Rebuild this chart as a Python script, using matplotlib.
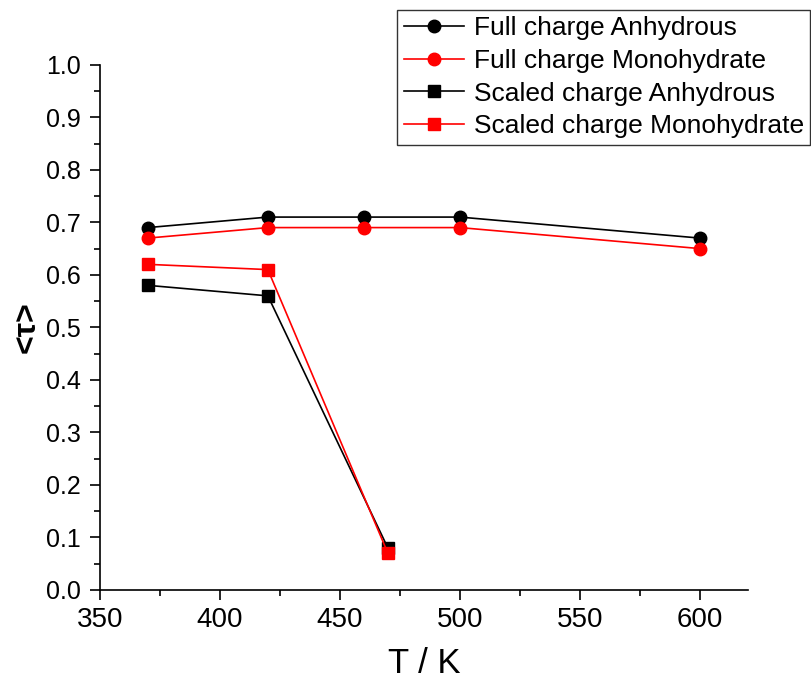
import matplotlib
matplotlib.use("Agg")
import matplotlib.pyplot as plt
from matplotlib.ticker import MultipleLocator

plt.rcParams['font.family'] = ['Liberation Sans', 'DejaVu Sans']

# temperatures (K)
t_full = [370, 420, 460, 500, 600]
t_scaled = [370, 420, 470]

# <tau> values
full_anhydrous = [0.69, 0.71, 0.71, 0.71, 0.67]
full_monohydrate = [0.67, 0.69, 0.69, 0.69, 0.65]
scaled_anhydrous = [0.58, 0.56, 0.08]
scaled_monohydrate = [0.62, 0.61, 0.07]

fig = plt.figure(figsize=(8.12, 6.82), dpi=100)
ax = fig.add_axes([0.123, 0.135, 0.798, 0.77])

lw = 1.2
ax.plot(t_full, full_anhydrous, color='black', marker='o', ms=9, lw=lw,
        label='Full charge Anhydrous')
ax.plot(t_full, full_monohydrate, color='red', marker='o', ms=9, lw=lw,
        label='Full charge Monohydrate')
ax.plot(t_scaled, scaled_anhydrous, color='black', marker='s', ms=8, lw=lw,
        label='Scaled charge Anhydrous')
ax.plot(t_scaled, scaled_monohydrate, color='red', marker='s', ms=8, lw=lw,
        label='Scaled charge Monohydrate')

ax.set_xlim(350, 620)
ax.set_ylim(0, 1.0)
ax.xaxis.set_major_locator(MultipleLocator(50))
ax.xaxis.set_minor_locator(MultipleLocator(25))
ax.yaxis.set_major_locator(MultipleLocator(0.1))
ax.yaxis.set_minor_locator(MultipleLocator(0.05))
ax.yaxis.set_major_formatter(plt.FormatStrFormatter('%.1f'))

ax.spines['top'].set_visible(False)
ax.spines['right'].set_visible(False)
for s in ('left', 'bottom'):
    ax.spines[s].set_linewidth(1.2)
ax.tick_params(which='major', direction='out', length=7, width=1.2)
ax.tick_params(which='minor', direction='out', length=4, width=1.2)
ax.tick_params(axis='y', labelsize=18, pad=7)
ax.tick_params(axis='x', labelsize=20, pad=5)

ax.set_xlabel('T / K', fontsize=25, va='baseline')
ax.xaxis.set_label_coords(0.5, -0.158)
ax.set_ylabel('<τ>', fontsize=23, fontweight='bold', labelpad=3)

leg = fig.legend(loc='upper right', bbox_to_anchor=(0.998, 0.986), fontsize=19,
                 frameon=True, fancybox=False, edgecolor='black',
                 handlelength=2.3, handletextpad=0.35, borderpad=0.25,
                 labelspacing=0.33, borderaxespad=0)
leg.get_frame().set_linewidth(1.0)

fig.savefig('out.png', dpi=100)
